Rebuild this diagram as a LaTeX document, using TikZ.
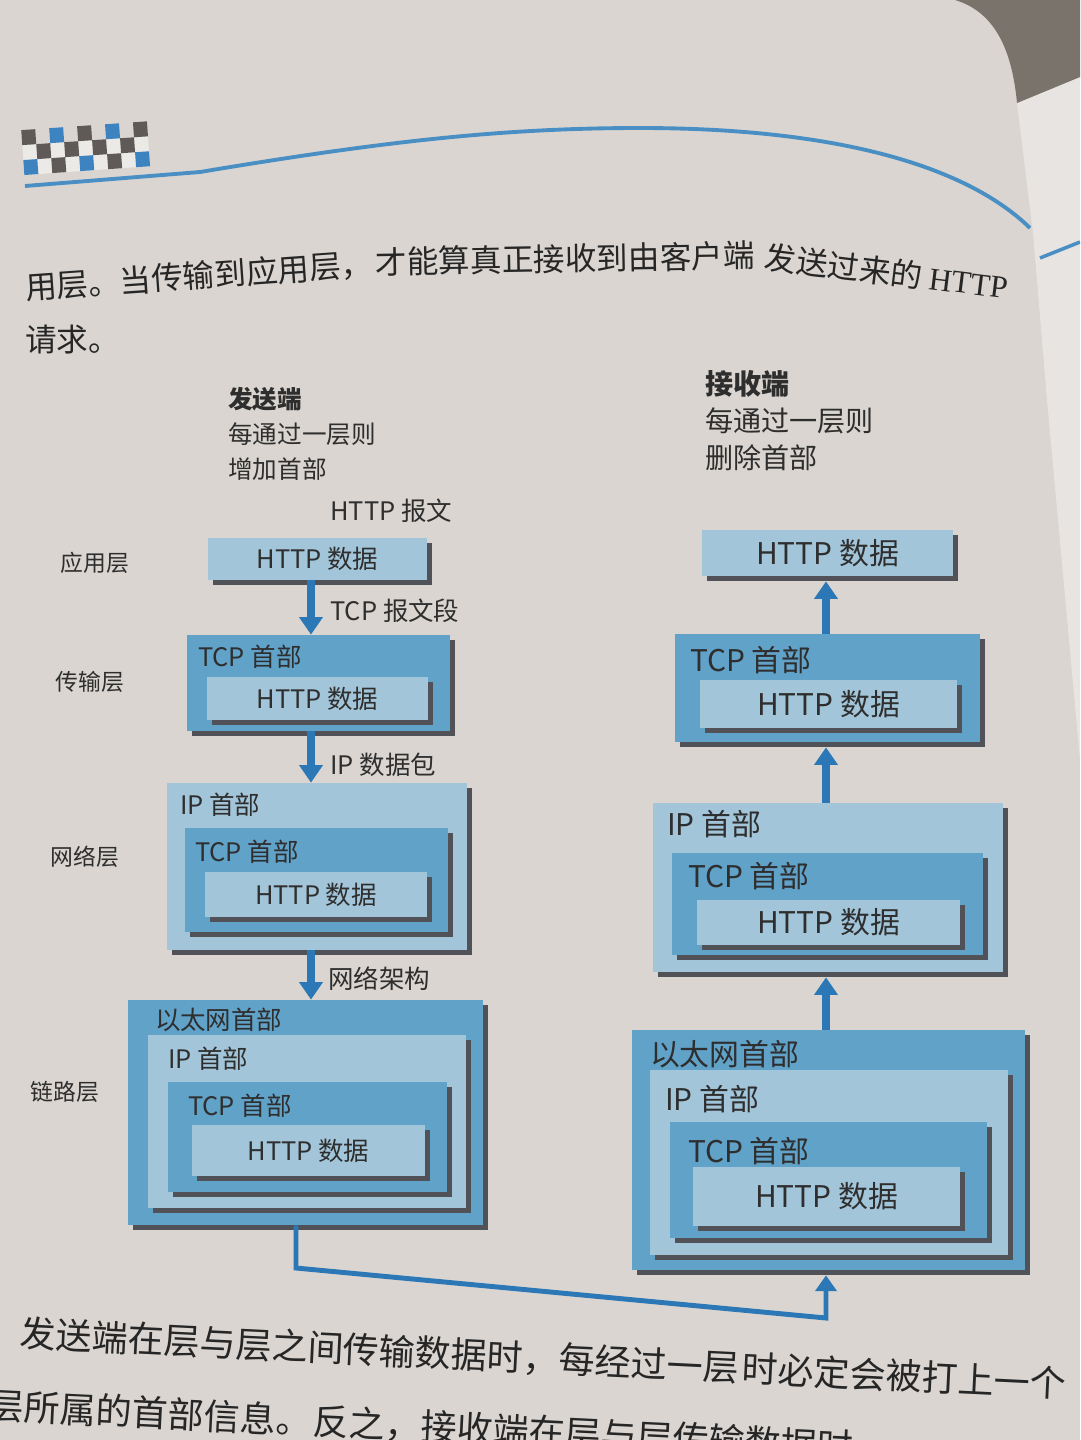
\documentclass[tikz,border=0pt]{standalone}
\usepackage{fontspec}
\setmainfont{Noto Sans CJK SC}
\newfontfamily\bodylatin{Liberation Serif}
\usetikzlibrary{arrows.meta,shadows}

\definecolor{paper}{HTML}{DAD5D0}
\definecolor{sidepage}{HTML}{E7E4E1}
\definecolor{backdrop}{HTML}{7A736B}
\definecolor{pale}{HTML}{A2C5DA}
\definecolor{deep}{HTML}{61A2C9}
\definecolor{shade}{HTML}{505257}
\definecolor{arrowblue}{HTML}{2C78B6}
\definecolor{rulblue}{HTML}{4A8FC4}
\definecolor{ink}{HTML}{2E2E2E}
\definecolor{bodyink}{HTML}{262626}
\definecolor{chkdark}{HTML}{5F5A57}
\definecolor{chkblue}{HTML}{3D83BF}
\definecolor{chklight}{HTML}{ECEAE6}

\begin{document}
\begin{tikzpicture}[x=0.02cm,y=-0.02cm,
	pktbox/.style={rectangle, inner sep=0pt, text=ink, drop shadow={shadow xshift=0.1cm, shadow yshift=-0.1cm, fill=shade, opacity=1}},
	hdr/.style={inner sep=0pt, anchor=north west, text=ink},
	note/.style={inner sep=0pt, anchor=west, text=ink},
	pass/.style={draw=arrowblue, line width=4.5pt, -{Triangle[width=13pt,length=10pt]}},
	wire/.style={draw=arrowblue, line width=2.8pt, -{Triangle[width=12pt,length=9pt]}},
	body/.style={inner sep=0pt, anchor=west, text=bodyink, font=\fontsize{18}{22}\selectfont},
	foot/.style={body, font=\fontsize{20.5}{24}\selectfont, rotate=-2.8}]

\def\lsize{\fontsize{14.5}{18}\selectfont}
\def\rsize{\fontsize{17}{20}\selectfont}
\def\pkt#1#2#3#4#5#6#7{\node (#1) [pktbox, fill=#6, minimum width={(#4-#2)*0.02cm}, minimum height={(#5-#3)*0.02cm}] at ({(#2+#4)/2},{(#3+#5)/2}) {#7};}

\path [use as bounding box] (0,0) rectangle (1080,1440);
\clip (0,0) rectangle (1080,1440);

% PAGE
\fill [paper] (0,0) rectangle (1080,1440);
\fill [sidepage] (1017,103) -- (1033,233) -- (1047,400) -- (1080,760) -- (1080,77) -- cycle;
\fill [backdrop] (955,0) .. controls (995,12) and (1012,50) .. (1017,103) -- (1080,77) -- (1080,0) -- cycle;

% HEADER
\begin{scope}[rotate around={4:(25,184)}]
\fill [chklight] (25,145) rectangle (151,175);
\foreach \c/\r/\k in {0/0/chkdark,2/0/chkblue,4/0/chkdark,6/0/chkblue,8/0/chkdark,1/1/chkdark,3/1/chkdark,5/1/chkdark,7/1/chkdark,0/2/chkblue,2/2/chkdark,4/2/chkblue,6/2/chkdark,8/2/chkblue}
	\fill [\k] ({25+14*\c},{130+15*\r}) rectangle ++(14,15);
\end{scope}
\draw [line width=2.2pt, rulblue] (25,186) -- (200,172) .. controls (380,142) and (500,128) .. (640,128) .. controls (820,128) and (960,160) .. (1030,228);
\draw [line width=2pt, rulblue] (1040,258) -- (1080,242);

% TEXT
\node (top1) [body, rotate=4] at (25,288) {用层。当传输到应用层，};
\node (top2) [body, rotate=1] at (375,262) {才能算真正接收到由客户端};
\node (top3) [body, rotate=-7] at (765,257) {发送过来的 {\bodylatin HTTP}};
\node (top4) [body] at (25,340) {请求。};

% SIDES
\node (sendH) [hdr, align=left, font=\fontsize{14}{20}\selectfont] at (228,387) {\textbf{发送端}\\每通过一层则\\增加首部};
\node (recvH) [hdr, align=left, font=\fontsize{16}{21}\selectfont] at (705,370) {\textbf{接收端}\\每通过一层则\\删除首部};
\node (msgL) [note, font=\lsize] at (330,511) {HTTP 报文};

% LAYERS
\node (appL) [note, font=\fontsize{13}{16}\selectfont] at (60,563) {应用层};
\node (traL) [note, font=\fontsize{13}{16}\selectfont] at (55,682) {传输层};
\node (netL) [note, font=\fontsize{13}{16}\selectfont] at (50,857) {网络层};
\node (lnkL) [note, font=\fontsize{13}{16}\selectfont] at (30,1092) {链路层};

% SENDER
\begin{scope}[font=\lsize]
\pkt{sHttp1}{208}{538}{427}{580}{pale}{HTTP 数据}
\pkt{sTcp2}{187}{635}{450}{731}{deep}{}
\node (sTcp2h) [hdr] at ([shift={(11,10)}]sTcp2.north west) {TCP 首部};
\pkt{sHttp2}{207}{677}{428}{720}{pale}{HTTP 数据}
\pkt{sIp3}{167}{783}{467}{950}{pale}{}
\node (sIp3h) [hdr] at ([shift={(13,10)}]sIp3.north west) {IP 首部};
\pkt{sTcp3}{185}{828}{448}{932}{deep}{}
\node (sTcp3h) [hdr] at ([shift={(10,12)}]sTcp3.north west) {TCP 首部};
\pkt{sHttp3}{205}{872}{427}{917}{pale}{HTTP 数据}
\pkt{sEth4}{128}{1000}{483}{1225}{deep}{}
\node (sEth4h) [hdr] at ([shift={(27,8)}]sEth4.north west) {以太网首部};
\pkt{sIp4}{148}{1035}{466}{1208}{pale}{}
\node (sIp4h) [hdr] at ([shift={(20,12)}]sIp4.north west) {IP 首部};
\pkt{sTcp4}{168}{1082}{447}{1192}{deep}{}
\node (sTcp4h) [hdr] at ([shift={(20,12)}]sTcp4.north west) {TCP 首部};
\pkt{sHttp4}{192}{1125}{425}{1176}{pale}{HTTP 数据}
\node (segL) [note] at (330,611) {TCP 报文段};
\node (dgrL) [note] at (330,765) {IP 数据包};
\node (frmL) [note] at (328,979) {网络架构};
\end{scope}

% RECEIVER
\begin{scope}[font=\rsize]
\pkt{rHttp1}{702}{530}{953}{576}{pale}{HTTP 数据}
\pkt{rTcp2}{675}{634}{980}{742}{deep}{}
\node (rTcp2h) [hdr] at ([shift={(15,12)}]rTcp2.north west) {TCP 首部};
\pkt{rHttp2}{700}{680}{957}{728}{pale}{HTTP 数据}
\pkt{rIp3}{653}{803}{1003}{972}{pale}{}
\node (rIp3h) [hdr] at ([shift={(14,7)}]rIp3.north west) {IP 首部};
\pkt{rTcp3}{672}{853}{983}{955}{deep}{}
\node (rTcp3h) [hdr] at ([shift={(16,9)}]rTcp3.north west) {TCP 首部};
\pkt{rHttp3}{697}{900}{960}{945}{pale}{HTTP 数据}
\pkt{rEth4}{632}{1030}{1025}{1270}{deep}{}
\node (rEth4h) [hdr] at ([shift={(18,10)}]rEth4.north west) {以太网首部};
\pkt{rIp4}{650}{1070}{1008}{1255}{pale}{}
\node (rIp4h) [hdr] at ([shift={(15,15)}]rIp4.north west) {IP 首部};
\pkt{rTcp4}{670}{1122}{987}{1238}{deep}{}
\node (rTcp4h) [hdr] at ([shift={(18,15)}]rTcp4.north west) {TCP 首部};
\pkt{rHttp4}{693}{1167}{960}{1226}{pale}{HTTP 数据}
\end{scope}

% ARROWS
\coordinate (lx) at (311,0);
\coordinate (rx) at (826,0);
\draw [pass] (sHttp1.south -| lx) -- (sTcp2.north -| lx);
\draw [pass] (sTcp2.south -| lx) -- (sIp3.north -| lx);
\draw [pass] (sIp3.south -| lx) -- (sEth4.north -| lx);
\draw [pass, shorten >=0.1cm] (rTcp2.north -| rx) -- (rHttp1.south -| rx);
\draw [pass, shorten >=0.1cm] (rIp3.north -| rx) -- (rTcp2.south -| rx);
\draw [pass, shorten >=0.1cm] (rEth4.north -| rx) -- (rIp3.south -| rx);

% LINK
\coordinate (bendL) at (296,1268);
\coordinate (bendR) at (826,1318);
\draw [wire, shorten >=0.1cm] (sEth4.south -| bendL) -- (bendL) -- (bendR) -- (rEth4.south -| bendR);

% FOOT
\node (foot1a) [foot] at (20,1333) {发送端在层与层之间};
\node (foot1b) [foot] at (343,1349) {传输数据时，每经过一层};
\node (foot1c) [foot] at (742,1368) {时必定会被打上一个};
\node (foot2a) [foot] at (-12,1405) {层所属的首部信息。};
\node (foot2b) [foot] at (313,1421) {反之，};
\node (foot2c) [foot] at (421,1426) {接收端在层与层传输数据时};

\end{tikzpicture}
\end{document}
